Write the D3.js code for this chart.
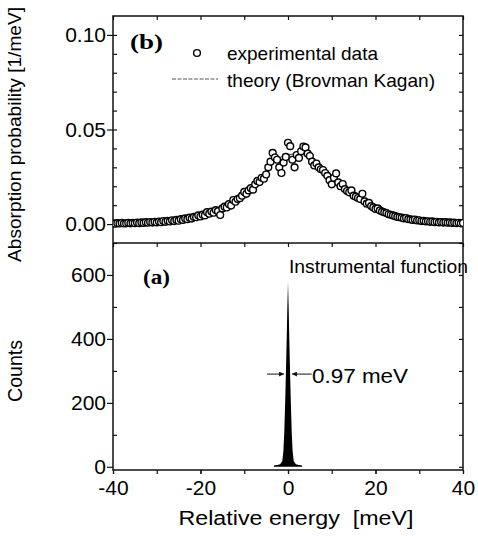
<!DOCTYPE html>
<html>
<head>
<meta charset="utf-8">
<script src="https://cdn.jsdelivr.net/npm/d3@7"></script>
<style>
  body { margin: 0; background: #fff; }
  svg { display: block; font-family: "Liberation Sans", Arial, sans-serif; }
</style>
</head>
<body>
<div id="chart"></div>
<script>
// measured absorption probability (panel b)
const expEnergy = [
  -40, -39.5, -39, -38.5, -38, -37.5, -37, -36.5, -36, -35.5, -35, -34.5, -34, -33.5, -33, -32.5, -32, -31.5, -31, -30.5,
  -30, -29.5, -29, -28.5, -28, -27.5, -27, -26.5, -26, -25.5, -25, -24.5, -24, -23.5, -23, -22.5, -22, -21.5, -21, -20.5,
  -20, -19.5, -19, -18.5, -18, -17.5, -17, -16.5, -16, -15.5, -15, -14.5, -14, -13.5, -13, -12.5, -12, -11.5, -11, -10.5,
  -10, -9.5, -9, -8.5, -8, -7.5, -7, -6.5, -6, -5.5, -5, -4.5, -4, -3.5, -3, -2.5, -2, -1.5, -1, -0.5,
  0, 0.5, 1, 1.5, 2, 2.5, 3, 3.5, 4, 4.5, 5, 5.5, 6, 6.5, 7, 7.5, 8, 8.5, 9, 9.5,
  10, 10.5, 11, 11.5, 12, 12.5, 13, 13.5, 14, 14.5, 15, 15.5, 16, 16.5, 17, 17.5, 18, 18.5, 19, 19.5,
  20, 20.5, 21, 21.5, 22, 22.5, 23, 23.5, 24, 24.5, 25, 25.5, 26, 26.5, 27, 27.5, 28, 28.5, 29, 29.5,
  30, 30.5, 31, 31.5, 32, 32.5, 33, 33.5, 34, 34.5, 35, 35.5, 36, 36.5, 37, 37.5, 38, 38.5, 39, 39.5, 40
];
const expProb = [
  0.0004, 0.0002, 0.0005, 0.0003, 0.0006, 0.0003, 0.0004, 0.0007, 0.0004, 0.0006, 0.0005, 0.0008, 0.0005, 0.0009, 0.0006, 0.0010, 0.0007, 0.0011, 0.0008, 0.0012,
  0.0009, 0.0013, 0.0010, 0.0016, 0.0012, 0.0017, 0.0014, 0.0020, 0.0016, 0.0022, 0.0018, 0.0026, 0.0022, 0.0030, 0.0026, 0.0034, 0.0029, 0.0038, 0.0036, 0.0046,
  0.0040, 0.0050, 0.0046, 0.0063, 0.0055, 0.0066, 0.0060, 0.0074, 0.0068, 0.0048, 0.0083, 0.0092, 0.0088, 0.0105, 0.0098, 0.0127, 0.0118, 0.0132, 0.0137, 0.0150,
  0.0170, 0.0160, 0.0178, 0.0190, 0.0182, 0.0210, 0.0228, 0.0222, 0.0245, 0.0240, 0.0262, 0.0300, 0.0330, 0.0376, 0.0352, 0.0340, 0.0300, 0.0270, 0.0325, 0.0355,
  0.0430, 0.0412, 0.0340, 0.0300, 0.0365, 0.0350, 0.0385, 0.0410, 0.0405, 0.0372, 0.0360, 0.0330, 0.0310, 0.0320, 0.0300, 0.0290, 0.0286, 0.0270, 0.0255, 0.0232,
  0.0210, 0.0245, 0.0268, 0.0220, 0.0200, 0.0212, 0.0185, 0.0175, 0.0168, 0.0178, 0.0150, 0.0145, 0.0138, 0.0132, 0.0160, 0.0120, 0.0108, 0.0112, 0.0095, 0.0088,
  0.0080, 0.0083, 0.0072, 0.0066, 0.0062, 0.0058, 0.0052, 0.0049, 0.0046, 0.0042, 0.0038, 0.0036, 0.0034, 0.0030, 0.0032, 0.0026, 0.0025, 0.0022, 0.0024, 0.0019,
  0.0020, 0.0016, 0.0017, 0.0014, 0.0015, 0.0012, 0.0014, 0.0010, 0.0012, 0.0009, 0.0011, 0.0008, 0.0010, 0.0007, 0.0009, 0.0006, 0.0008, 0.0005, 0.0007, 0.0004, 0.0006
];

// theory curve (Brovman Kagan)
const theoryEnergy = [-40, -36, -32, -28, -26, -24, -22, -20, -18, -16, -14, -12, -10, -8, -6, -4, -2, 0, 2, 4, 6, 8, 10, 12, 14, 16, 18, 20, 22, 24, 26, 28, 32, 36, 40];
const theoryProb = [0.0003, 0.0005, 0.0008, 0.0014, 0.0019, 0.0025, 0.0034, 0.0045, 0.0058, 0.0075, 0.0098, 0.0128, 0.0165, 0.0205, 0.0255, 0.0310, 0.0350, 0.0365, 0.0372, 0.0362, 0.0330, 0.0285,
  0.0235, 0.0195, 0.0160, 0.0130, 0.0105, 0.0082, 0.0064, 0.0049, 0.0037, 0.0028, 0.0016, 0.0009, 0.0005];

// instrumental function (panel a)
const instEnergy = [-3.3, -3.1, -2.5, -1.8, -1.3, -1.05, -0.85, -0.65, -0.48, -0.3, -0.15, 0, 0.15, 0.3, 0.48, 0.65, 0.85, 1.05, 1.3, 1.8, 2.5, 3.1, 3.3];
const instCounts = [0, 5, 6, 8, 18, 50, 110, 200, 290, 400, 500, 578, 500, 400, 290, 200, 110, 50, 18, 8, 6, 5, 0];

const xMajor = [-40, -20, 0, 20, 40];
const xAll = [-40, -30, -20, -10, 0, 10, 20, 30, 40];
const probMajor = [0, 0.05, 0.10];
const probMinor = [0, 0.01, 0.02, 0.03, 0.04, 0.05, 0.06, 0.07, 0.08, 0.09, 0.10];
const countMajor = [0, 200, 400, 600];
const countMinor = [100, 300, 500, 700];
const countAll = [0, 100, 200, 300, 400, 500, 600, 700];

const width = 478, height = 536;
const left = 113, right = 463, top1 = 16, mid = 243, bottom = 470;

const svg = d3.select('#chart').append('svg')
    .attr('width', width)
    .attr('height', height);

const x = d3.scaleLinear().domain([-40, 40]).range([left, right]);
const yP = d3.scaleLinear().domain([-0.01, 0.11]).range([mid, top1]);
const yC = d3.scaleLinear().domain([-10, 700]).range([bottom, mid]);

svg.append('clipPath').attr('id', 'clipTop')
  .append('rect').attr('x', left).attr('y', top1).attr('width', right - left).attr('height', mid - top1);

// ---- axes helpers
const hyphenInt = d => String(d);   // plain "-" like the original print
function noLabels(axis) { return axis.tickFormat(''); }
function tidy(g) {
    g.select('.domain').remove();
    g.selectAll('line').attr('stroke', '#111').attr('stroke-width', 1.2);
    g.selectAll('text').attr('fill', '#000').attr('font-family', '"Liberation Sans", Arial, sans-serif');
}

// top panel axes
svg.append('g').attr('transform', `translate(${left},0)`)
    .call(d3.axisLeft(yP).tickValues(probMajor).tickSize(6).tickPadding(1).tickFormat(d3.format('.2f')))
    .call(tidy).selectAll('text').attr('font-size', 21);
svg.append('g').attr('transform', `translate(${left},0)`)
    .call(noLabels(d3.axisRight(yP).tickValues(probMinor).tickSize(4))).call(tidy);
svg.append('g').attr('transform', `translate(${right},0)`)
    .call(noLabels(d3.axisLeft(yP).tickValues(probMinor).tickSize(4))).call(tidy);
svg.append('g').attr('transform', `translate(0,${top1})`)
    .call(noLabels(d3.axisBottom(x).tickValues(xAll).tickSize(4))).call(tidy);
svg.append('g').attr('transform', `translate(0,${mid})`)
    .call(noLabels(d3.axisBottom(x).tickValues(xAll).tickSize(4))).call(tidy);

// bottom panel axes
svg.append('g').attr('transform', `translate(${left},0)`)
    .call(d3.axisLeft(yC).tickValues(countMajor).tickSize(6).tickPadding(1))
    .call(tidy).selectAll('text').attr('font-size', 21);
svg.append('g').attr('transform', `translate(${left},0)`)
    .call(noLabels(d3.axisRight(yC).tickValues(countMinor).tickSize(4))).call(tidy);
svg.append('g').attr('transform', `translate(${right},0)`)
    .call(noLabels(d3.axisLeft(yC).tickValues(countAll).tickSize(4))).call(tidy);
svg.append('g').attr('transform', `translate(0,${bottom})`)
    .call(noLabels(d3.axisBottom(x).tickValues(xAll).tickSize(4))).call(tidy);
svg.append('g').attr('transform', `translate(0,${bottom})`)
    .call(d3.axisBottom(x).tickValues(xMajor).tickSize(4).tickPadding(6).tickFormat(hyphenInt))
    .call(tidy).selectAll('text').attr('font-size', 21);

// frames
svg.append('rect').attr('x', left).attr('y', top1).attr('width', right - left).attr('height', bottom - top1)
    .attr('fill', 'none').attr('stroke', '#111').attr('stroke-width', 1.5);
svg.append('line').attr('x1', left).attr('x2', right).attr('y1', mid).attr('y2', mid)
    .attr('stroke', '#111').attr('stroke-width', 1.5);

// ---- panel b: theory + data
const theoryLine = d3.line()
    .curve(d3.curveMonotoneX)
    .x((d, i) => x(theoryEnergy[i]))
    .y(d => yP(d));

const topG = svg.append('g').attr('clip-path', 'url(#clipTop)');
topG.append('path')
    .datum(theoryProb)
    .attr('fill', 'none')
    .attr('stroke', '#333')
    .attr('stroke-width', 1)
    .attr('d', theoryLine);

topG.selectAll('circle')
    .data(expProb)
    .enter()
    .append('circle')
    .attr('cx', (d, i) => x(expEnergy[i]))
    .attr('cy', d => yP(d))
    .attr('r', 3.4)
    .attr('fill', '#fff')
    .attr('stroke', '#000')
    .attr('stroke-width', 1.4);

// ---- panel a: instrumental function
const spike = d3.area()
    .x((d, i) => x(instEnergy[i]))
    .y0(yC(0))
    .y1(d => yC(d));
svg.append('path')
    .datum(instCounts)
    .attr('fill', '#000')
    .attr('d', spike);

// ---- labels and legend
svg.append('text').attr('x', 130).attr('y', 49)
    .attr('font-family', '"Liberation Serif", "Times New Roman", serif')
    .attr('font-weight', 'bold').attr('font-size', 21)
    .attr('textLength', 33).attr('lengthAdjust', 'spacingAndGlyphs')
    .text('(b)');
svg.append('text').attr('x', 143).attr('y', 284)
    .attr('font-family', '"Liberation Serif", "Times New Roman", serif')
    .attr('font-weight', 'bold').attr('font-size', 20)
    .attr('textLength', 27).attr('lengthAdjust', 'spacingAndGlyphs')
    .text('(a)');

svg.append('circle').attr('cx', 197).attr('cy', 53).attr('r', 3.4)
    .attr('fill', '#fff').attr('stroke', '#000').attr('stroke-width', 1.4);
svg.append('text').attr('x', 227).attr('y', 60).attr('font-size', 19)
    .attr('textLength', 151).attr('lengthAdjust', 'spacingAndGlyphs')
    .text('experimental data');
svg.append('line').attr('x1', 172).attr('x2', 218).attr('y1', 79).attr('y2', 79)
    .attr('stroke', '#555').attr('stroke-width', 1).attr('stroke-dasharray', '4,1.5');
svg.append('text').attr('x', 227).attr('y', 87).attr('font-size', 19)
    .attr('textLength', 208).attr('lengthAdjust', 'spacingAndGlyphs')
    .text('theory (Brovman Kagan)');

svg.append('text').attr('x', 289).attr('y', 273).attr('font-size', 18)
    .attr('textLength', 179).attr('lengthAdjust', 'spacingAndGlyphs')
    .text('Instrumental function');

// FWHM annotation
const defs = svg.append('defs');
defs.append('marker').attr('id', 'arr')
    .attr('viewBox', '0 0 10 10').attr('refX', 10).attr('refY', 5)
    .attr('markerWidth', 6).attr('markerHeight', 5).attr('orient', 'auto')
    .append('path').attr('d', 'M0,0L10,5L0,10z').attr('fill', '#111');
const halfY = yC(290);
svg.append('line').attr('x1', x(-4.8)).attr('x2', x(-0.9)).attr('y1', halfY).attr('y2', halfY)
    .attr('stroke', '#111').attr('stroke-width', 1).attr('marker-end', 'url(#arr)');
svg.append('line').attr('x1', x(5.4)).attr('x2', x(0.9)).attr('y1', halfY).attr('y2', halfY)
    .attr('stroke', '#111').attr('stroke-width', 1).attr('marker-end', 'url(#arr)');
svg.append('text').attr('x', 312).attr('y', 383).attr('font-size', 21)
    .attr('textLength', 96).attr('lengthAdjust', 'spacingAndGlyphs')
    .text('0.97 meV');

// axis titles
svg.append('text')
    .attr('transform', 'translate(21,134.5) rotate(-90)')
    .attr('text-anchor', 'middle').attr('font-size', 19)
    .attr('textLength', 255).attr('lengthAdjust', 'spacingAndGlyphs')
    .text('Absorption probability [1/meV]');
svg.append('text')
    .attr('transform', 'translate(22,371) rotate(-90)')
    .attr('text-anchor', 'middle').attr('font-size', 20)
    .attr('textLength', 62).attr('lengthAdjust', 'spacingAndGlyphs')
    .text('Counts');
svg.append('text')
    .attr('x', 296).attr('y', 525)
    .attr('text-anchor', 'middle').attr('font-size', 20)
    .attr('textLength', 235).attr('lengthAdjust', 'spacingAndGlyphs')
    .style('white-space', 'pre')
    .text('Relative energy  [meV]');
</script>
</body>
</html>
